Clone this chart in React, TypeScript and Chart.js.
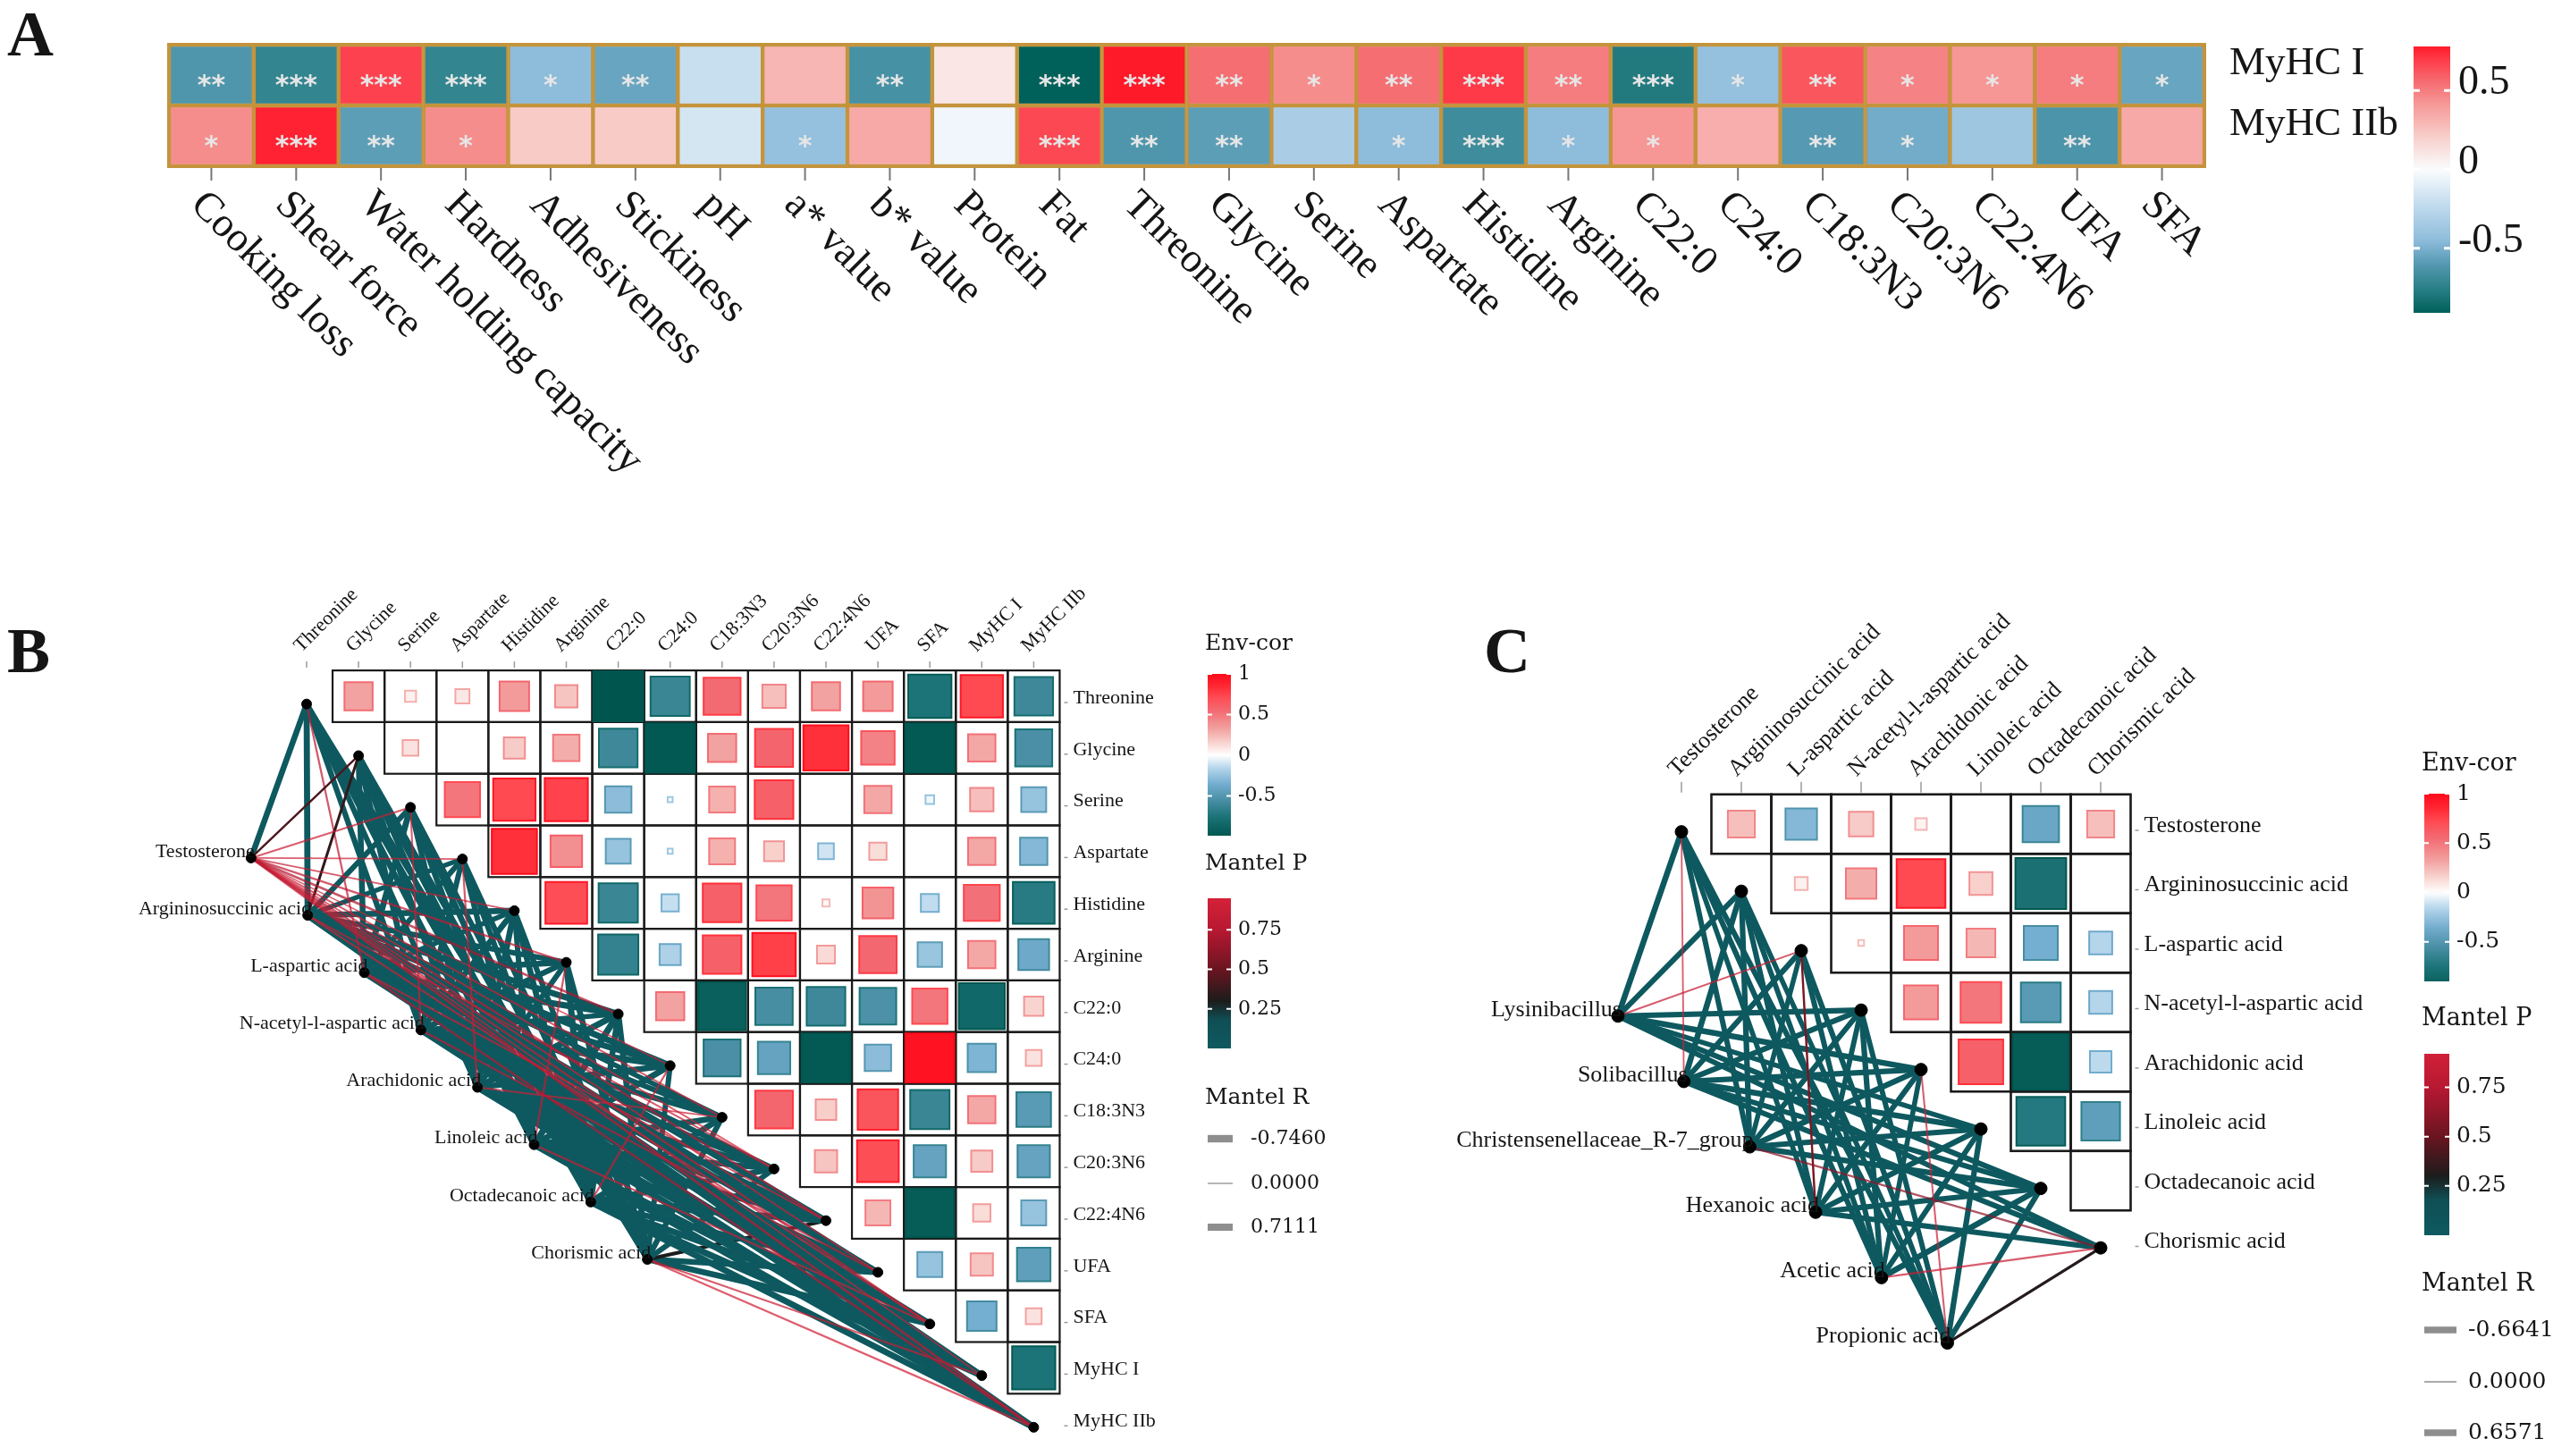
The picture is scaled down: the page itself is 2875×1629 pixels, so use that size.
import React, { useEffect, useRef } from "react";
import { Chart, registerables } from "chart.js";

Chart.register(...registerables);

const FIG_W = 2875;
const FIG_H = 1629;
const SERIF = '"Liberation Serif", "Times New Roman", Times, "DejaVu Serif", serif';
const WIDE_SERIF = '"DejaVu Serif", "Liberation Serif", serif';

// ================= Panel A data =================
const traitsA = [
  "Cooking loss", "Shear force", "Water holding capacity", "Hardness", "Adhesiveness",
  "Stickiness", "pH", "a* value", "b* value", "Protein", "Fat", "Threonine", "Glycine",
  "Serine", "Aspartate", "Histidine", "Arginine", "C22:0", "C24:0", "C18:3N3", "C20:3N6",
  "C22:4N6", "UFA", "SFA",
];
const rowLabelsA = ["MyHC I", "MyHC IIb"];
const corMyHCI = [-0.62, -0.72, 0.68, -0.72, -0.45, -0.55, -0.2, 0.3, -0.65, 0.1, -0.91, 0.78, 0.55, 0.45, 0.55, 0.7, 0.5, -0.78, -0.42, 0.62, 0.48, 0.42, 0.5, -0.55];
const corMyHCIIb = [0.45, 0.76, -0.58, 0.45, 0.22, 0.22, -0.15, -0.42, 0.35, -0.04, 0.66, -0.62, -0.58, -0.33, -0.45, -0.68, -0.45, 0.42, 0.33, -0.6, -0.52, -0.38, -0.63, 0.35];
const sigMyHCI = ["**", "***", "***", "***", "*", "**", "", "", "**", "", "***", "***", "**", "*", "**", "***", "**", "***", "*", "**", "*", "*", "*", "*"];
const sigMyHCIIb = ["*", "***", "**", "*", "", "", "", "*", "", "", "***", "**", "**", "", "*", "***", "*", "*", "", "**", "*", "", "**", ""];
const colorbarTicksA = [0.5, 0, -0.5];

// ================= Panel B data =================
const varsB = ["Threonine", "Glycine", "Serine", "Aspartate", "Histidine", "Arginine", "C22:0", "C24:0", "C18:3N3", "C20:3N6", "C22:4N6", "UFA", "SFA", "MyHC I", "MyHC IIb"];
// upper triangle: row i holds correlations with columns i+1 .. n-1
const corB = [
  [0.32, 0.05, 0.08, 0.35, 0.2, -1.0, -0.62, 0.55, 0.22, 0.32, 0.35, -0.75, 0.72, -0.6],
  [0.1, 0, 0.18, 0.28, -0.6, -0.98, 0.32, 0.58, 0.82, 0.45, -0.97, 0.3, -0.55],
  [0.5, 0.72, 0.75, -0.28, -0.01, 0.27, 0.6, 0, 0.3, -0.03, 0.22, -0.25],
  [0.82, 0.4, -0.25, -0.01, 0.27, 0.16, -0.1, 0.12, 0, 0.3, -0.3],
  [0.7, -0.62, -0.12, 0.6, 0.5, 0.02, 0.38, -0.13, 0.52, -0.7],
  [-0.65, -0.18, 0.6, 0.76, 0.13, 0.56, -0.24, 0.3, -0.38],
  [0.32, -0.92, -0.56, -0.6, -0.54, 0.5, -0.85, 0.15],
  [-0.55, -0.42, -0.97, -0.28, 0.96, -0.32, 0.1],
  [0.57, 0.17, 0.66, -0.62, 0.3, -0.48],
  [0.2, 0.7, -0.42, 0.18, -0.42],
  [0.25, -0.95, 0.12, -0.25],
  [-0.25, 0.2, -0.45],
  [-0.35, 0.1],
  [-0.75],
];
const specB = ["Testosterone", "Argininosuccinic acid", "L-aspartic acid", "N-acetyl-l-aspartic acid", "Arachidonic acid", "Linoleic acid", "Octadecanoic acid", "Chorismic acid"];
const mantelPB = [
  [0.01, 0.42, 0.88, 0.9, 0.85, 0.82, 0.72, 0.9, 0.86, 0.93, 0.8, 0.88, 0.84, 0.92, 0.78],
  [0.01, 0.35, 0.01, 0.02, 0.01, 0.01, 0.01, 0.01, 0.02, 0.85, 0.01, 0.01, 0.9, 0.01, 0.01],
  [0.8, 0.01, 0.01, 0.01, 0.02, 0.01, 0.01, 0.01, 0.01, 0.01, 0.88, 0.01, 0.01, 0.01, 0.75],
  [0.01, 0.01, 0.9, 0.01, 0.01, 0.01, 0.02, 0.01, 0.01, 0.01, 0.01, 0.8, 0.01, 0.01, 0.01],
  [0.01, 0.01, 0.01, 0.85, 0.01, 0.01, 0.01, 0.01, 0.9, 0.01, 0.01, 0.01, 0.01, 0.01, 0.01],
  [0.01, 0.01, 0.01, 0.01, 0.01, 0.82, 0.01, 0.01, 0.01, 0.01, 0.01, 0.01, 0.88, 0.01, 0.01],
  [0.01, 0.01, 0.01, 0.01, 0.01, 0.01, 0.01, 0.85, 0.01, 0.01, 0.01, 0.01, 0.01, 0.01, 0.01],
  [0.01, 0.01, 0.01, 0.01, 0.01, 0.01, 0.01, 0.01, 0.01, 0.01, 0.3, 0.01, 0.01, 0.86, 0.93],
];
const mantelRB = [
  [0.55, 0.12, 0.08, 0.05, 0.06, 0.1, 0.15, 0.03, 0.08, 0.05, 0.12, 0.07, 0.1, 0.04, 0.14],
  [0.58, 0.18, 0.5, 0.42, 0.55, 0.5, 0.6, 0.62, 0.45, 0.08, 0.55, 0.5, 0.1, 0.58, 0.62],
  [0.1, 0.55, 0.58, 0.5, 0.45, 0.55, 0.62, 0.58, 0.5, 0.55, 0.08, 0.56, 0.6, 0.58, 0.12],
  [0.52, 0.56, 0.08, 0.5, 0.55, 0.52, 0.45, 0.6, 0.55, 0.5, 0.58, 0.1, 0.62, 0.55, 0.6],
  [0.5, 0.55, 0.52, 0.1, 0.58, 0.5, 0.6, 0.55, 0.06, 0.52, 0.6, 0.55, 0.58, 0.6, 0.62],
  [0.55, 0.5, 0.56, 0.52, 0.5, 0.1, 0.62, 0.58, 0.55, 0.5, 0.6, 0.56, 0.08, 0.6, 0.58],
  [0.52, 0.58, 0.55, 0.5, 0.56, 0.6, 0.55, 0.1, 0.58, 0.55, 0.6, 0.52, 0.6, 0.62, 0.58],
  [0.45, 0.5, 0.48, 0.52, 0.5, 0.55, 0.58, 0.5, 0.52, 0.5, 0.3, 0.55, 0.58, 0.08, 0.1],
];
const envTicksB = [1, 0.5, 0, -0.5];
const pTicksB = [0.75, 0.5, 0.25];
const rLegendB = [-0.746, 0, 0.7111];

// ================= Panel C data =================
const varsC = ["Testosterone", "Argininosuccinic acid", "L-aspartic acid", "N-acetyl-l-aspartic acid", "Arachidonic acid", "Linoleic acid", "Octadecanoic acid", "Chorismic acid"];
const corC = [
  [0.22, -0.3, 0.18, 0.04, 0, -0.4, 0.22],
  [0.05, 0.28, 0.72, 0.16, -0.78, 0],
  [0.01, 0.35, 0.25, -0.35, -0.16],
  [0.35, 0.5, -0.48, -0.16],
  [0.6, -0.95, -0.14],
  [-0.72, -0.45],
  [0],
];
const specC = ["Lysinibacillus", "Solibacillus", "Christensenellaceae_R-7_group", "Hexanoic acid", "Acetic acid", "Propionic acid"];
const mantelPC = [
  [0.01, 0.01, 0.85, 0.01, 0.01, 0.01, 0.01, 0.01],
  [0.9, 0.01, 0.01, 0.01, 0.01, 0.01, 0.01, 0.01],
  [0.01, 0.01, 0.01, 0.01, 0.01, 0.01, 0.01, 0.62],
  [0.01, 0.01, 0.55, 0.01, 0.01, 0.01, 0.01, 0.01],
  [0.01, 0.01, 0.01, 0.01, 0.01, 0.01, 0.01, 0.88],
  [0.01, 0.01, 0.01, 0.01, 0.88, 0.01, 0.01, 0.32],
];
const mantelRC = [
  [0.55, 0.5, 0.08, 0.5, 0.55, 0.45, 0.5, 0.48],
  [0.06, 0.55, 0.5, 0.52, 0.5, 0.55, 0.48, 0.5],
  [0.5, 0.52, 0.45, 0.5, 0.55, 0.5, 0.52, 0.1],
  [0.45, 0.5, 0.12, 0.48, 0.5, 0.52, 0.5, 0.5],
  [0.5, 0.48, 0.5, 0.52, 0.45, 0.5, 0.55, 0.1],
  [0.5, 0.45, 0.5, 0.48, 0.08, 0.52, 0.5, 0.2],
];
const envTicksC = [1, 0.5, 0, -0.5];
const pTicksC = [0.75, 0.5, 0.25];
const rLegendC = [-0.6641, 0, 0.6571];

// ================= colours =================
type Stop = [number, string];
const STOPS_A: Stop[] = [[-0.91, "#00605A"], [-0.75, "#2A8088"], [-0.6, "#5599B2"], [-0.45, "#8EBCDB"], [-0.25, "#BCD8EC"], [0, "#FAFCFE"], [0.2, "#F8D0CC"], [0.4, "#F69C9A"], [0.55, "#F56E72"], [0.7, "#FF3A48"], [0.78, "#FF1A2A"]];
const STOPS_ENV: Stop[] = [[-1, "#00564F"], [-0.75, "#1D7478"], [-0.55, "#4A8FA5"], [-0.35, "#74AED0"], [-0.15, "#B8D7EC"], [0, "#FFFFFF"], [0.15, "#F8D4D0"], [0.32, "#F2A2A0"], [0.55, "#F26A72"], [0.72, "#FF4A52"], [0.85, "#FF2833"], [1, "#FF0A1A"]];
const STOPS_P: Stop[] = [[0, "#0E5A60"], [0.18, "#0F4F55"], [0.3, "#1C1C1C"], [0.5, "#6A1520"], [0.75, "#B81832"], [0.95, "#D42238"]];
const GOLD = "#C4943C";
const TEXT = "#151515";

function hexToRgb(h: string) {
  const n = parseInt(h.slice(1), 16);
  return [(n >> 16) & 255, (n >> 8) & 255, n & 255];
}
function interpRgb(stops: Stop[], v: number): number[] {
  if (v <= stops[0][0]) return hexToRgb(stops[0][1]);
  if (v >= stops[stops.length - 1][0]) return hexToRgb(stops[stops.length - 1][1]);
  let lo = stops[0], hi = stops[1];
  for (let i = 1; i < stops.length; i++) {
    if (v <= stops[i][0]) { lo = stops[i - 1]; hi = stops[i]; break; }
  }
  const t = (v - lo[0]) / (hi[0] - lo[0]);
  const a = hexToRgb(lo[1]), b = hexToRgb(hi[1]);
  return a.map((x, k) => Math.round(x + (b[k] - x) * t));
}
function interpColor(stops: Stop[], v: number): string {
  const c = interpRgb(stops, v);
  return `rgb(${c[0]},${c[1]},${c[2]})`;
}
function vGradient(ctx: CanvasRenderingContext2D, top: number, bottom: number, vTop: number, vBottom: number, stops: Stop[]) {
  const g = ctx.createLinearGradient(0, top, 0, bottom);
  for (let s = 0; s <= 60; s++) {
    const f = s / 60;
    g.addColorStop(f, interpColor(stops, vTop + (vBottom - vTop) * f));
  }
  return g;
}
const envColor = (r: number) => interpColor(STOPS_ENV, r);
const envBorder = (r: number) => interpColor(STOPS_ENV, Math.sign(r) * Math.min(1, Math.abs(r) + 0.22));
const edgeColor = (p: number) => {
  const c = interpRgb(STOPS_P, p);
  const a = p > 0.6 ? 0.72 : 1;
  return `rgba(${c[0]},${c[1]},${c[2]},${a})`;
};
const rWidth = (r: number) => 1.3 + Math.abs(r) * 9.5;

// ================= Panel A chart =================
const A_BOX = { left: 189, right: 2466, top: 50, bottom: 186 };
const A_BAR = { x: 2700, w: 41, top: 52, bottom: 350, labelX: 2750 };

const panelAPlugin = {
  id: "panelA",
  afterDraw(chart: any) {
    const ctx: CanvasRenderingContext2D = chart.ctx;
    const xs = chart.scales.x, ys = chart.scales.y;
    ctx.save();
    // significance stars
    ctx.fillStyle = "#E6E6E6";
    ctx.font = 'bold 30px "DejaVu Sans", sans-serif';
    ctx.textAlign = "center";
    ctx.textBaseline = "alphabetic";
    [sigMyHCI, sigMyHCIIb].forEach((sig, di) => {
      chart.getDatasetMeta(di).data.forEach((el: any, i: number) => {
        const s = sig[i];
        if (!s) return;
        const m = ctx.measureText(s);
        const cy = (el.y + el.base) / 2 + 6;
        ctx.fillText(s, el.x, cy + (m.actualBoundingBoxAscent - m.actualBoundingBoxDescent) / 2);
      });
    });
    // outer frame
    const ca = chart.chartArea;
    ctx.strokeStyle = GOLD;
    ctx.lineWidth = 2;
    ctx.strokeRect(ca.left - 1, ca.top - 1, ca.right - ca.left + 2, ca.bottom - ca.top + 2);
    // ticks + rotated labels
    const base = ys.getPixelForValue(0);
    ctx.strokeStyle = "#777";
    ctx.lineWidth = 2;
    ctx.fillStyle = TEXT;
    ctx.font = `46px ${SERIF}`;
    traitsA.forEach((t, i) => {
      const x = xs.getPixelForValue(i);
      ctx.beginPath();
      ctx.moveTo(x, base + 2);
      ctx.lineTo(x, base + 16);
      ctx.stroke();
      ctx.save();
      ctx.translate(x, base + 20);
      ctx.rotate(Math.PI / 4);
      ctx.textAlign = "left";
      ctx.textBaseline = "top";
      ctx.fillText(t, 0, 0);
      ctx.restore();
    });
    // row labels
    ctx.font = `45px ${SERIF}`;
    ctx.textAlign = "left";
    ctx.textBaseline = "middle";
    rowLabelsA.forEach((lab, r) => {
      const yc = ys.getPixelForValue(r === 0 ? 1.5 : 0.5);
      ctx.fillText(lab, ca.right + 28, yc - 13);
    });
    // colour bar
    const all = corMyHCI.concat(corMyHCIIb);
    const vmax = Math.max(...all), vmin = Math.min(...all);
    ctx.fillStyle = vGradient(ctx, A_BAR.top, A_BAR.bottom, vmax, vmin, STOPS_A);
    ctx.fillRect(A_BAR.x, A_BAR.top, A_BAR.w, A_BAR.bottom - A_BAR.top);
    ctx.fillStyle = TEXT;
    ctx.font = `46px ${SERIF}`;
    colorbarTicksA.forEach((v) => {
      const y = A_BAR.top + ((vmax - v) / (vmax - vmin)) * (A_BAR.bottom - A_BAR.top);
      ctx.strokeStyle = "#FFFFFF";
      ctx.lineWidth = 3;
      ctx.beginPath();
      ctx.moveTo(A_BAR.x, y); ctx.lineTo(A_BAR.x + 7, y);
      ctx.moveTo(A_BAR.x + A_BAR.w - 7, y); ctx.lineTo(A_BAR.x + A_BAR.w, y);
      ctx.stroke();
      ctx.fillText(String(v), A_BAR.labelX, y - 8);
    });
    // panel letter
    ctx.font = `bold 72px ${SERIF}`;
    ctx.textBaseline = "alphabetic";
    ctx.fillText("A", 8, 62);
    ctx.restore();
  },
};

function configA(): any {
  const common = { borderColor: GOLD, borderWidth: 2.5, borderSkipped: false, grouped: false, barPercentage: 1, categoryPercentage: 1 };
  return {
    type: "bar",
    data: {
      labels: traitsA,
      datasets: [
        { label: rowLabelsA[0], data: corMyHCI.map(() => [1, 2]), backgroundColor: corMyHCI.map((v) => interpColor(STOPS_A, v)), ...common },
        { label: rowLabelsA[1], data: corMyHCIIb.map(() => [0, 1]), backgroundColor: corMyHCIIb.map((v) => interpColor(STOPS_A, v)), ...common },
      ],
    },
    options: {
      responsive: false,
      animation: false,
      devicePixelRatio: 1,
      events: [],
      layout: { padding: { left: A_BOX.left, right: FIG_W - A_BOX.right, top: A_BOX.top, bottom: FIG_H - A_BOX.bottom } },
      plugins: { legend: { display: false }, tooltip: { enabled: false } },
      scales: {
        x: { display: false },
        y: { display: false, min: 0, max: 2 },
      },
    },
    plugins: [panelAPlugin],
  };
}

// ================= Panels B / C =================
const LAYOUT_B = {
  col0: 343, row0: 779, ux: 58.1, uy: 57.8, xmin: -5, xmax: 15, ymin: -1.5, ymax: 14.5,
  specX0: -1.07, specY0: 3.13, specDx: 1.09, specDy: 1.11, nodeDy: 0.15,
  font: 22, nodeR: 5.5, gridW: 2.2, tickTop: 10, tickBot: 3,
  letter: "B", letterX: 8, letterY: 752,
};
const LEGEND_B = {
  x: 1351, barW: 26, titleFont: 25, numFont: 22,
  envTitleY: 720, envTop: 754, envBottom: 935, envMax: 1, envMin: -0.99,
  pTitleY: 966, pTop: 1005, pBottom: 1173, pMax: 0.95, pMin: 0,
  rTitleY: 1228, rY: [1274, 1324, 1373], segW: 28, rTextX: 1399,
};
const LAYOUT_C = {
  col0: 1881, row0: 922, ux: 67, uy: 66.5, xmin: -3.5, xmax: 8, ymin: -1.5, ymax: 10,
  specX0: -1.06, specY0: 3.23, specDx: 1.1, specDy: 1.1, nodeDy: 0.13,
  font: 26, nodeR: 7, gridW: 2.6, tickTop: 14, tickBot: 2,
  letter: "C", letterX: 1660, letterY: 752,
};
const LEGEND_C = {
  x: 2712, barW: 28, titleFont: 27, numFont: 25,
  envTitleY: 855, envTop: 888, envBottom: 1098, envMax: 1, envMin: -0.9,
  pTitleY: 1140, pTop: 1179, pBottom: 1382, pMax: 0.92, pMin: 0,
  rTitleY: 1437, rY: [1488, 1546, 1603], segW: 36, rTextX: 2761,
};

function drawNetLegend(ctx: CanvasRenderingContext2D, L: any, envTicks: number[], pTicks: number[], rVals: number[]) {
  ctx.save();
  ctx.textAlign = "left";
  ctx.textBaseline = "middle";
  ctx.fillStyle = TEXT;
  ctx.font = `${L.titleFont}px ${WIDE_SERIF}`;
  ctx.fillText("Env-cor", L.x - 3, L.envTitleY);
  ctx.fillText("Mantel P", L.x - 3, L.pTitleY);
  ctx.fillText("Mantel R", L.x - 3, L.rTitleY);

  const bar = (top: number, bottom: number, vTop: number, vBot: number, stops: Stop[], ticks: number[]) => {
    ctx.fillStyle = vGradient(ctx, top, bottom, vTop, vBot, stops);
    ctx.fillRect(L.x, top, L.barW, bottom - top);
    ctx.fillStyle = TEXT;
    ctx.font = `${L.numFont}px ${WIDE_SERIF}`;
    ticks.forEach((v) => {
      const y = top + ((vTop - v) / (vTop - vBot)) * (bottom - top);
      ctx.strokeStyle = "#FFFFFF";
      ctx.lineWidth = 2;
      ctx.beginPath();
      ctx.moveTo(L.x, y); ctx.lineTo(L.x + 5, y);
      ctx.moveTo(L.x + L.barW - 5, y); ctx.lineTo(L.x + L.barW, y);
      ctx.stroke();
      ctx.fillText(String(v), L.x + L.barW + 8, y);
    });
  };
  bar(L.envTop, L.envBottom, L.envMax, L.envMin, STOPS_ENV, envTicks);
  bar(L.pTop, L.pBottom, L.pMax, L.pMin, STOPS_P, pTicks);

  ctx.font = `${L.numFont}px ${WIDE_SERIF}`;
  rVals.forEach((v, i) => {
    const y = L.rY[i];
    ctx.strokeStyle = "#8E8E8E";
    ctx.lineWidth = rWidth(v);
    ctx.lineCap = "butt";
    ctx.beginPath();
    ctx.moveTo(L.x, y); ctx.lineTo(L.x + L.segW, y);
    ctx.stroke();
    ctx.fillStyle = TEXT;
    ctx.fillText(v.toFixed(4), L.rTextX, y);
  });
  ctx.restore();
}

function networkConfig(vars: string[], cor: number[][], spec: string[], mP: number[][], mR: number[][], LY: any, LG: any, envTicks: number[], pTicks: number[], rVals: number[]): any {
  const n = vars.length;
  const envNodes = vars.map((_, i) => ({ x: i, y: i + LY.nodeDy }));
  const specNodes = spec.map((_, k) => ({ x: LY.specX0 + k * LY.specDx, y: LY.specY0 + k * LY.specDy }));
  const edges: any[] = [];
  spec.forEach((_, k) => {
    vars.forEach((_, i) => {
      const p = mP[k][i], r = mR[k][i];
      edges.push({
        data: [specNodes[k], envNodes[i]],
        showLine: true,
        borderColor: edgeColor(p),
        borderWidth: rWidth(r),
        borderCapStyle: "round",
        pointRadius: 0,
        pointHoverRadius: 0,
        tension: 0,
        order: p > 0.3 ? 4 : 5,
      });
    });
  });
  const cells: any[] = [];
  cor.forEach((row, i) => row.forEach((r, m) => cells.push({ x: i + 1 + m, y: i, r })));
  const unitPx = (chart: any) => Math.abs(chart.scales.x.getPixelForValue(1) - chart.scales.x.getPixelForValue(0));
  const cellSet = {
    data: cells,
    pointStyle: "rect",
    pointRadius: (c: any) => (c.raw ? (Math.sqrt(Math.abs(c.raw.r)) * unitPx(c.chart) * 0.96) / Math.SQRT2 : 0),
    pointHoverRadius: 0,
    pointBackgroundColor: (c: any) => (c.raw ? envColor(c.raw.r) : "#fff"),
    pointBorderColor: (c: any) => (c.raw ? envBorder(c.raw.r) : "#fff"),
    pointBorderWidth: 2,
    order: 2,
  };
  const nodeSet = {
    data: [...specNodes, ...envNodes],
    pointRadius: LY.nodeR,
    pointHoverRadius: 0,
    pointBackgroundColor: "#000",
    pointBorderColor: "#000",
    pointBorderWidth: 1,
    order: 0,
  };

  const plugin = {
    id: "net" + LY.letter,
    beforeDatasetsDraw(chart: any) {
      const ctx: CanvasRenderingContext2D = chart.ctx;
      const xs = chart.scales.x, ys = chart.scales.y;
      ctx.save();
      ctx.strokeStyle = "#1A1A1A";
      ctx.lineWidth = LY.gridW;
      for (let i = 0; i < n - 1; i++) {
        for (let j = i + 1; j < n; j++) {
          const x0 = xs.getPixelForValue(j - 0.5), x1 = xs.getPixelForValue(j + 0.5);
          const y0 = ys.getPixelForValue(i - 0.5), y1 = ys.getPixelForValue(i + 0.5);
          ctx.strokeRect(x0, y0, x1 - x0, y1 - y0);
        }
      }
      ctx.restore();
    },
    afterDraw(chart: any) {
      const ctx: CanvasRenderingContext2D = chart.ctx;
      const xs = chart.scales.x, ys = chart.scales.y;
      const top = ys.getPixelForValue(-0.5);
      const right = xs.getPixelForValue(n - 0.5);
      ctx.save();
      ctx.fillStyle = TEXT;
      ctx.font = `${LY.font}px ${SERIF}`;
      // column ticks + labels
      vars.forEach((v, j) => {
        const x = xs.getPixelForValue(j);
        ctx.strokeStyle = "#9A9A9A";
        ctx.lineWidth = 1.5;
        ctx.beginPath();
        ctx.moveTo(x, top - LY.tickTop); ctx.lineTo(x, top - LY.tickBot);
        ctx.stroke();
        ctx.save();
        ctx.translate(x - 10, top - 24);
        ctx.rotate(-Math.PI / 4);
        ctx.textAlign = "left";
        ctx.textBaseline = "middle";
        ctx.fillText(v, 0, 0);
        ctx.restore();
      });
      // row ticks + labels
      ctx.textAlign = "left";
      ctx.textBaseline = "middle";
      vars.forEach((v, i) => {
        const y = ys.getPixelForValue(i);
        ctx.strokeStyle = "#9A9A9A";
        ctx.lineWidth = 1.5;
        ctx.beginPath();
        ctx.moveTo(right + 5, y + 7); ctx.lineTo(right + 9, y + 7);
        ctx.stroke();
        ctx.fillText(v, right + 15, y + 2);
      });
      // spec labels
      ctx.textAlign = "right";
      spec.forEach((s, k) => {
        const x = xs.getPixelForValue(specNodes[k].x);
        const y = ys.getPixelForValue(specNodes[k].y);
        ctx.fillText(s, x + 4, y - 7);
      });
      // panel letter
      ctx.textAlign = "left";
      ctx.textBaseline = "alphabetic";
      ctx.font = `bold 72px ${SERIF}`;
      ctx.fillText(LY.letter, LY.letterX, LY.letterY);
      ctx.restore();
      drawNetLegend(ctx, LG, envTicks, pTicks, rVals);
    },
  };

  const left = LY.col0 + LY.xmin * LY.ux;
  const rightPx = LY.col0 + LY.xmax * LY.ux;
  const topPx = LY.row0 + LY.ymin * LY.uy;
  const bottomPx = LY.row0 + LY.ymax * LY.uy;

  return {
    type: "scatter",
    data: { datasets: [...edges, cellSet, nodeSet] },
    options: {
      responsive: false,
      animation: false,
      devicePixelRatio: 1,
      events: [],
      layout: { padding: { left, right: FIG_W - rightPx, top: topPx, bottom: FIG_H - bottomPx } },
      plugins: { legend: { display: false }, tooltip: { enabled: false } },
      scales: {
        x: { type: "linear", display: false, min: LY.xmin, max: LY.xmax },
        y: { type: "linear", display: false, reverse: true, min: LY.ymin, max: LY.ymax },
      },
    },
    plugins: [plugin],
  };
}

export default function App() {
  const refA = useRef<HTMLCanvasElement>(null);
  const refB = useRef<HTMLCanvasElement>(null);
  const refC = useRef<HTMLCanvasElement>(null);

  useEffect(() => {
    const charts = [
      new Chart(refA.current as HTMLCanvasElement, configA()),
      new Chart(refB.current as HTMLCanvasElement, networkConfig(varsB, corB, specB, mantelPB, mantelRB, LAYOUT_B, LEGEND_B, envTicksB, pTicksB, rLegendB)),
      new Chart(refC.current as HTMLCanvasElement, networkConfig(varsC, corC, specC, mantelPC, mantelRC, LAYOUT_C, LEGEND_C, envTicksC, pTicksC, rLegendC)),
    ];
    let alive = true;
    const redraw = () => { if (alive) charts.forEach((c) => c.draw()); };
    const fonts: any = (document as any).fonts;
    if (fonts) {
      Promise.all([
        fonts.load(`46px "Liberation Serif"`),
        fonts.load(`bold 72px "Liberation Serif"`),
        fonts.load(`25px "DejaVu Serif"`),
        fonts.load(`bold 30px "DejaVu Sans"`),
      ]).catch(() => null).then(() => fonts.ready).then(redraw);
    }
    const t1 = setTimeout(redraw, 200);
    const t2 = setTimeout(redraw, 800);
    return () => { alive = false; clearTimeout(t1); clearTimeout(t2); charts.forEach((c) => c.destroy()); };
  }, []);

  const cs: React.CSSProperties = { position: "absolute", left: 0, top: 0, width: FIG_W, height: FIG_H };
  return (
    <div style={{ position: "absolute", left: 0, top: 0, width: FIG_W, height: FIG_H, background: "#FFFFFF", overflow: "hidden" }}>
      <div style={{ position: "absolute", left: 0, top: 0, opacity: 0, pointerEvents: "none" }}>
        <span style={{ fontFamily: '"Liberation Serif"' }}>Threonine</span>
        <span style={{ fontFamily: '"Liberation Serif"', fontWeight: "bold" }}>ABC</span>
        <span style={{ fontFamily: '"DejaVu Serif"' }}>Mantel</span>
        <span style={{ fontFamily: '"DejaVu Sans"', fontWeight: "bold" }}>*</span>
      </div>
      <canvas ref={refA} width={FIG_W} height={FIG_H} style={cs} />
      <canvas ref={refB} width={FIG_W} height={FIG_H} style={cs} />
      <canvas ref={refC} width={FIG_W} height={FIG_H} style={cs} />
    </div>
  );
}
